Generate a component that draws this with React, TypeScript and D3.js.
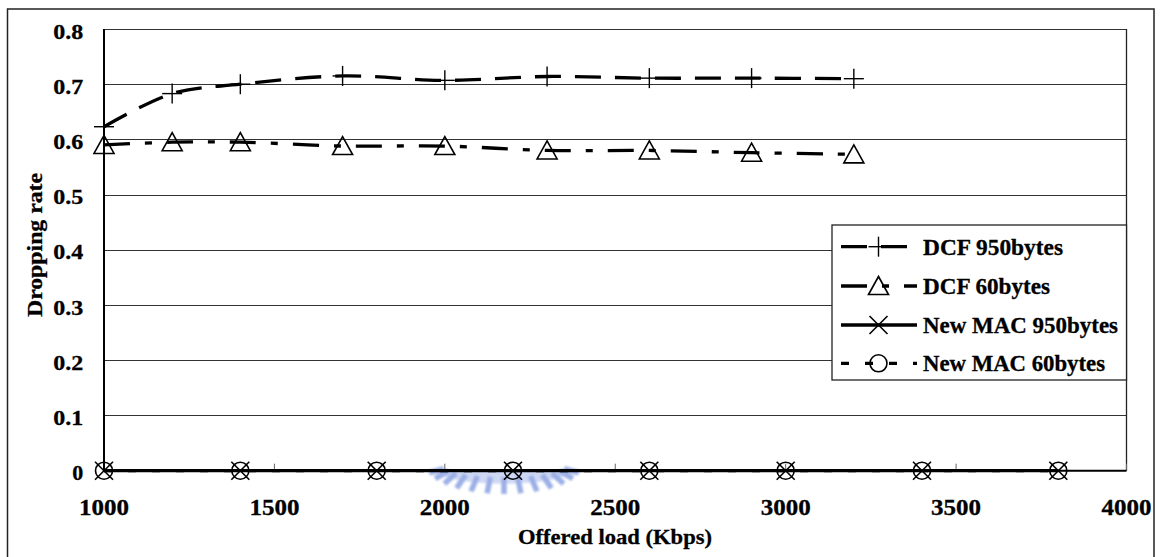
import React from "react";
import * as d3 from "d3";

// ---- data ----
const xTicks = [1000, 1500, 2000, 2500, 3000, 3500, 4000];
const yTicks = [0, 0.1, 0.2, 0.3, 0.4, 0.5, 0.6, 0.7, 0.8];

const dcfLoads = [1000, 1200, 1400, 1700, 2000, 2300, 2600, 2900, 3200];
const dcf950 = [0.623, 0.683, 0.7, 0.715, 0.707, 0.714, 0.711, 0.711, 0.71];
const dcf60 = [0.59, 0.595, 0.595, 0.588, 0.588, 0.58, 0.58, 0.576, 0.573];

const newMacLoads = [1000, 1400, 1800, 2200, 2600, 3000, 3400, 3800];
const newMac950 = [0, 0, 0, 0, 0, 0, 0, 0];
const newMac60 = [0, 0, 0, 0, 0, 0, 0, 0];

const seriesNames = ["DCF 950bytes", "DCF 60bytes", "New MAC 950bytes", "New MAC 60bytes"];
const xTitle = "Offered load (Kbps)";
const yTitle = "Dropping rate";

// ---- layout / style ----
const W = 1167;
const H = 557;
const plot = { left: 104, right: 1126.5, top: 29, bottom: 470.7 };
const FONT = "'Liberation Serif','Times New Roman',Times,serif";
const dashLong = "26,14";
const dashDot = "26,15,7,15";
const dashShort = "8,16";

type Marker = "plus" | "tri" | "cross" | "circle";

function MarkerShape({ type, x, y }: { type: Marker; x: number; y: number }) {
  const s = 1.4;
  if (type === "plus") {
    return (
      <g stroke="#000" strokeWidth={s}>
        <line x1={x - 10} y1={y} x2={x + 10} y2={y} />
        <line x1={x} y1={y - 10} x2={x} y2={y + 10} />
      </g>
    );
  }
  if (type === "tri") {
    return (
      <path
        d={`M${x},${y - 9.5}L${x + 10},${y + 8.5}L${x - 10},${y + 8.5}Z`}
        fill="none"
        stroke="#000"
        strokeWidth={1.6}
      />
    );
  }
  if (type === "cross") {
    return (
      <g stroke="#000" strokeWidth={1.6}>
        <line x1={x - 9} y1={y - 9} x2={x + 9} y2={y + 9} />
        <line x1={x - 9} y1={y + 9} x2={x + 9} y2={y - 9} />
      </g>
    );
  }
  return <circle cx={x} cy={y} r={8.5} fill="none" stroke="#000" strokeWidth={1.6} />;
}

export default function App() {
  const x = d3.scaleLinear().domain([1000, 4000]).range([plot.left, plot.right]);
  const y = d3.scaleLinear().domain([0, 0.8]).range([plot.bottom, plot.top]);

  const smooth = d3
    .line<[number, number]>()
    .x((d) => x(d[0]))
    .y((d) => y(d[1]))
    .curve(d3.curveCatmullRom.alpha(0.5));
  const straight = d3
    .line<[number, number]>()
    .x((d) => x(d[0]))
    .y((d) => y(d[1]));

  const s950 = dcfLoads.map((l, i) => [l, dcf950[i]] as [number, number]);
  const s60 = dcfLoads.map((l, i) => [l, dcf60[i]] as [number, number]);
  const n950 = newMacLoads.map((l, i) => [l, newMac950[i]] as [number, number]);
  const n60 = newMacLoads.map((l, i) => [l, newMac60[i]] as [number, number]);

  // legend
  const leg = { x: 832, y: 225, w: 294.5, h: 155 };
  const legRows = [246.7, 286, 325, 363.3];
  const legText = [140, 127, 195, 182];
  const legStyles: { dash?: string; marker: Marker }[] = [
    { dash: dashLong, marker: "plus" },
    { dash: dashDot, marker: "tri" },
    { dash: undefined, marker: "cross" },
    { dash: dashShort, marker: "circle" },
  ];

  // watermark (decorative gear arc)
  const wm = { cx: 504, cy: 466, rx1: 62, ry1: 11, rx2: 77, ry2: 28 };
  const teeth = d3.range(13).map((i) => (14 + i * (152 / 12)) * (Math.PI / 180));

  const textStroke = { stroke: "#000", strokeWidth: 0.3 };

  return (
    <svg
      width={W}
      height={H}
      style={{ position: "absolute", left: 0, top: 0, background: "#fff" }}
      fontFamily={FONT}
      fontWeight="bold"
    >
      <defs>
        <filter id="wmblur" x="-20%" y="-50%" width="140%" height="200%">
          <feGaussianBlur stdDeviation="0.8" />
        </filter>
      </defs>
      <rect x={0} y={0} width={W} height={H} fill="#fff" />
      {/* outer frame */}
      <rect x={7.5} y={9} width={1146.5} height={560} fill="none" stroke="#222" strokeWidth={1.5} />

      {/* gridlines */}
      {yTicks.slice(1).map((t) => (
        <line
          key={t}
          x1={plot.left}
          x2={plot.right}
          y1={Math.round(y(t)) + 0.5}
          y2={Math.round(y(t)) + 0.5}
          stroke="#333"
          strokeWidth={1}
        />
      ))}
      {/* plot border right */}
      <line x1={plot.right} x2={plot.right} y1={plot.top} y2={plot.bottom} stroke="#222" strokeWidth={1.3} />

      {/* watermark */}
      <g filter="url(#wmblur)" opacity={0.85}>
        <path
          d={`M${wm.cx - 66},${plot.bottom}A66,13 0 0 0 ${wm.cx + 66},${plot.bottom}Z`}
          fill="#c6d2f3"
        />
        <g stroke="#8aa2e2" strokeWidth={5.5}>
          {teeth.map((a, i) => (
            <line
              key={i}
              x1={wm.cx + wm.rx1 * Math.cos(a)}
              y1={wm.cy + wm.ry1 * Math.sin(a)}
              x2={wm.cx + wm.rx2 * Math.cos(a)}
              y2={wm.cy + wm.ry2 * Math.sin(a)}
            />
          ))}
        </g>
      </g>

      {/* x axis ticks */}
      {xTicks.map((t) => (
        <line key={t} x1={x(t)} x2={x(t)} y1={plot.bottom - 7} y2={plot.bottom} stroke="#666" strokeWidth={1} />
      ))}
      {/* axes */}
      <line x1={plot.left} x2={plot.right} y1={plot.bottom} y2={plot.bottom} stroke="#000" strokeWidth={2} />
      <line x1={plot.left} x2={plot.left} y1={plot.top} y2={plot.bottom} stroke="#000" strokeWidth={2} />

      {/* series lines */}
      <path d={smooth(s950) || ""} fill="none" stroke="#000" strokeWidth={3.3} strokeDasharray={dashLong} />
      <path d={smooth(s60) || ""} fill="none" stroke="#000" strokeWidth={3.3} strokeDasharray={dashDot} />
      <path d={straight(n950) || ""} fill="none" stroke="#000" strokeWidth={3.3} />
      <path d={straight(n60) || ""} fill="none" stroke="#000" strokeWidth={3.3} strokeDasharray={dashShort} />

      {/* markers */}
      {s950.map((d, i) => (
        <MarkerShape key={"a" + i} type="plus" x={x(d[0])} y={y(d[1])} />
      ))}
      {s60.map((d, i) => (
        <MarkerShape key={"b" + i} type="tri" x={x(d[0])} y={y(d[1])} />
      ))}
      {n950.map((d, i) => (
        <MarkerShape key={"c" + i} type="cross" x={x(d[0])} y={y(d[1])} />
      ))}
      {n60.map((d, i) => (
        <MarkerShape key={"d" + i} type="circle" x={x(d[0])} y={y(d[1])} />
      ))}

      {/* y tick labels */}
      {yTicks.map((t) => {
        const label = t === 0 ? "0" : d3.format(".1f")(t);
        return (
          <text
            key={t}
            x={83.3}
            y={y(t) + 9.5}
            textAnchor="end"
            fontSize={22}
            textLength={t === 0 ? 11 : 30}
            lengthAdjust="spacingAndGlyphs"
            {...textStroke}
          >
            {label}
          </text>
        );
      })}
      {/* x tick labels */}
      {xTicks.map((t) => (
        <text
          key={t}
          x={x(t) - 25}
          y={515}
          fontSize={23}
          textLength={50}
          lengthAdjust="spacingAndGlyphs"
          {...textStroke}
        >
          {String(t)}
        </text>
      ))}

      {/* axis titles */}
      <text x={615 - 97} y={544} fontSize={22} textLength={194} lengthAdjust="spacingAndGlyphs" {...textStroke}>
        {xTitle}
      </text>
      <g transform="translate(41.5,245) rotate(-90)">
        <text x={-72} y={0} fontSize={22} textLength={144} lengthAdjust="spacingAndGlyphs" {...textStroke}>
          {yTitle}
        </text>
      </g>

      {/* legend */}
      <rect x={leg.x} y={leg.y} width={leg.w} height={leg.h} fill="#fff" stroke="#222" strokeWidth={1.3} />
      {seriesNames.map((name, i) => {
        const ry = legRows[i];
        const st = legStyles[i];
        return (
          <g key={name}>
            <line
              x1={841}
              x2={917}
              y1={ry}
              y2={ry}
              stroke="#000"
              strokeWidth={3.3}
              strokeDasharray={st.dash}
            />
            <MarkerShape type={st.marker} x={878.5} y={ry} />
            <text
              x={923}
              y={ry + 8}
              fontSize={22.5}
              textLength={legText[i]}
              lengthAdjust="spacingAndGlyphs"
              {...textStroke}
            >
              {name}
            </text>
          </g>
        );
      })}
    </svg>
  );
}
